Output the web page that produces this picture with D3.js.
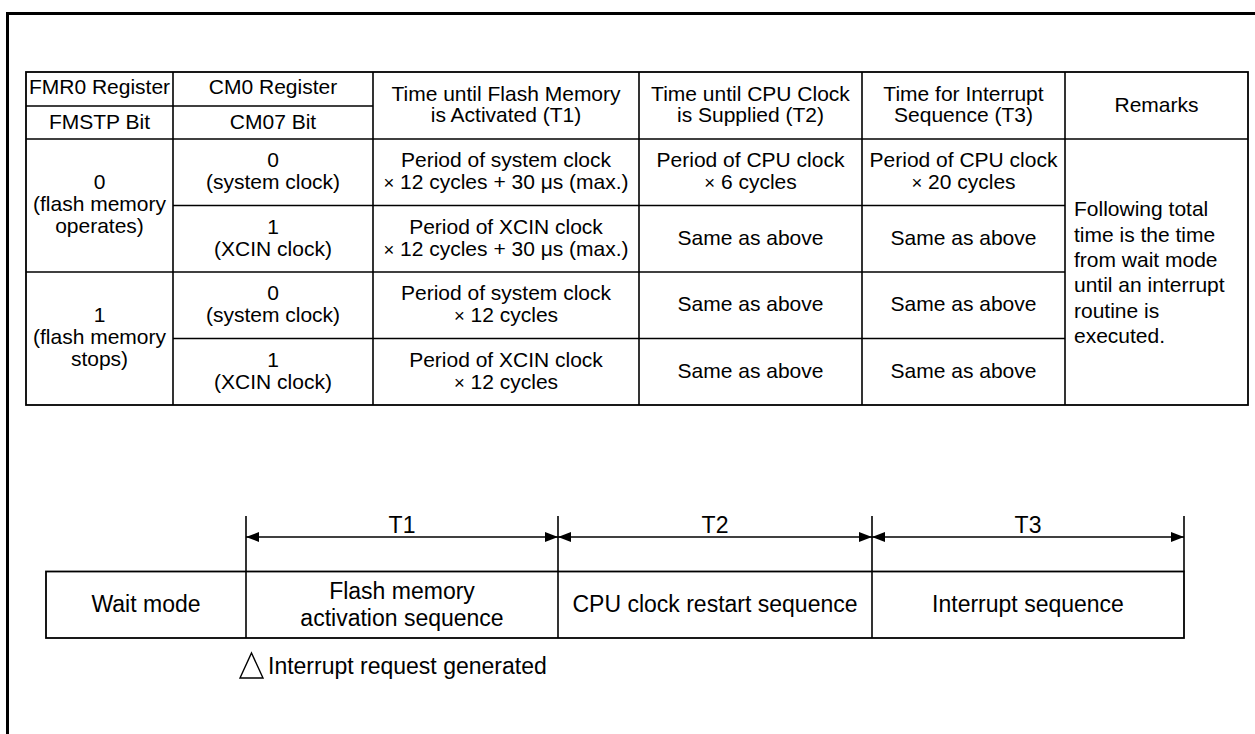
<!DOCTYPE html>
<html><head><meta charset="utf-8">
<script src="https://cdn.jsdelivr.net/npm/d3@7"></script>
<style>
body{margin:0;background:#fff}
svg{display:block}
text{font-family:"Liberation Sans",Arial,sans-serif;fill:#000}
</style>
</head><body>
<svg id="c" width="1255" height="734"></svg>
<script>
// ---------- data (text content) ----------
const headerTop = ["FMR0 Register", "CM0 Register"];
const headerBottom = ["FMSTP Bit", "CM07 Bit"];
const headerMerged = [
  ["Time until Flash Memory", "is Activated (T1)"],
  ["Time until CPU Clock", "is Supplied (T2)"],
  ["Time for Interrupt", "Sequence (T3)"],
  ["Remarks"]
];
const fmstpGroups = [["0", "(flash memory", "operates)"], ["1", "(flash memory", "stops)"]];
const cm07Values = [["0", "(system clock)"], ["1", "(XCIN clock)"], ["0", "(system clock)"], ["1", "(XCIN clock)"]];
const t1Values = [
  ["Period of system clock", "× 12 cycles + 30 μs (max.)"],
  ["Period of XCIN clock", "× 12 cycles + 30 μs (max.)"],
  ["Period of system clock", "× 12 cycles"],
  ["Period of XCIN clock", "× 12 cycles"]
];
const t2Values = [["Period of CPU clock", "× 6 cycles"], ["Same as above"], ["Same as above"], ["Same as above"]];
const t3Values = [["Period of CPU clock", "× 20 cycles"], ["Same as above"], ["Same as above"], ["Same as above"]];
const remarks = ["Following total", "time is the time", "from wait mode", "until an interrupt", "routine is", "executed."];
const phases = [["Wait mode"], ["Flash memory", "activation sequence"], ["CPU clock restart sequence"], ["Interrupt sequence"]];
const intervals = ["T1", "T2", "T3"];
const legendLabel = "Interrupt request generated";

// ---------- layout ----------
const svg = d3.select("#c");
const FS = 21, LH = 21.7, FS2 = 23;
const colX = d3.scaleOrdinal().domain(d3.range(7)).range([26, 173, 373, 639, 862, 1065, 1248]);
const headY = d3.scaleOrdinal().domain([0, 1, 2]).range([72, 106, 139]);
const rowY = d3.scaleLinear().domain([0, 4]).range([139, 405]);
const phaseX = d3.scaleOrdinal().domain(d3.range(5)).range([46, 246, 558, 872, 1184]);

function addLine(g, str, fs) {
  const parts = str.split("×");
  parts.forEach((p, i) => {
    if (i > 0) g.append("tspan").attr("font-size", fs * 0.88).text("×");
    if (p.length) g.append("tspan").attr("font-size", fs).text(p);
  });
}
function multi(lines, cx, cy, opts = {}) {
  const fs = opts.fs || FS, lh = opts.lh || LH, anchor = opts.anchor || "middle";
  const n = lines.length;
  lines.forEach((ln, i) => {
    const yc = cy + (i - (n - 1) / 2) * lh;
    const t = svg.append("text")
      .attr("x", cx).attr("y", yc + fs * 0.36)
      .attr("font-size", fs).attr("text-anchor", anchor);
    addLine(t, ln, fs);
  });
}
function line(x1, y1, x2, y2, w) {
  svg.append("line").attr("x1", x1).attr("y1", y1).attr("x2", x2).attr("y2", y2)
    .attr("stroke", "#000").attr("stroke-width", w || 1.6);
}

// ---------- page frame ----------
line(6, 13.5, 1255, 13.5, 3);
line(7.5, 12, 7.5, 734, 3);

// ---------- table grid ----------
const L = colX(0), R = colX(6), T = headY(0), B = rowY(4);
svg.append("rect").attr("x", L).attr("y", T).attr("width", R - L).attr("height", B - T)
  .attr("fill", "none").attr("stroke", "#000").attr("stroke-width", 1.8);
d3.range(1, 6).forEach(c => line(colX(c), T, colX(c), B));
line(L, headY(1), colX(2), headY(1));
line(L, headY(2), R, headY(2));
[1, 2, 3].forEach(r => {
  const startCol = r === 2 ? 0 : 1;
  line(colX(startCol), rowY(r), colX(5), rowY(r));
});

// ---------- header text ----------
headerTop.forEach((s, c) => multi([s], (colX(c) + colX(c + 1)) / 2, (headY(0) + headY(1)) / 2 - 3));
headerBottom.forEach((s, c) => multi([s], (colX(c) + colX(c + 1)) / 2, (headY(1) + headY(2)) / 2 - 1));
headerMerged.forEach((ls, i) => {
  const c = i + 2;
  multi(ls, (colX(c) + colX(c + 1)) / 2, (headY(0) + headY(2)) / 2 - 1.5);
});

// ---------- body text ----------
fmstpGroups.forEach((ls, g) => multi(ls, (colX(0) + colX(1)) / 2, (rowY(g * 2) + rowY(g * 2 + 2)) / 2 - 2));
[cm07Values, t1Values, t2Values, t3Values].forEach((vals, k) => {
  const c = k + 1;
  vals.forEach((ls, r) => multi(ls, (colX(c) + colX(c + 1)) / 2, (rowY(r) + rowY(r + 1)) / 2 - 1.5));
});
multi(remarks, colX(5) + 9, (rowY(0) + rowY(4)) / 2, { anchor: "start", lh: 25.3 });

// ---------- timing diagram ----------
const boxT = 571.5, boxB = 638, arrowY = 537, tickT = 516;
svg.append("rect").attr("x", phaseX(0)).attr("y", boxT).attr("width", phaseX(4) - phaseX(0)).attr("height", boxB - boxT)
  .attr("fill", "none").attr("stroke", "#000").attr("stroke-width", 1.8);
[1, 2, 3].forEach(i => line(phaseX(i), boxT, phaseX(i), boxB));
[1, 2, 3, 4].forEach(i => line(phaseX(i), tickT, phaseX(i), boxT));
phases.forEach((ls, i) => multi(ls, (phaseX(i) + phaseX(i + 1)) / 2, (boxT + boxB) / 2 - 1, { fs: FS2, lh: 27 }));

intervals.forEach((lab, k) => {
  const x0 = phaseX(k + 1), x1 = phaseX(k + 2);
  line(x0, arrowY, x1, arrowY, 1.4);
  const ah = 13, aw = 5;
  svg.append("path").attr("d", `M${x0},${arrowY} L${x0 + ah},${arrowY - aw} L${x0 + ah},${arrowY + aw} Z`).attr("fill", "#000");
  svg.append("path").attr("d", `M${x1},${arrowY} L${x1 - ah},${arrowY - aw} L${x1 - ah},${arrowY + aw} Z`).attr("fill", "#000");
  multi([lab], (x0 + x1) / 2, 525, { fs: FS2 });
});

// legend
svg.append("path").attr("d", "M251.5,653 L263,678 L240,678 Z").attr("fill", "none").attr("stroke", "#000").attr("stroke-width", 1.4);
multi([legendLabel], 268, 666, { fs: FS2, anchor: "start" });
</script>
</body></html>
